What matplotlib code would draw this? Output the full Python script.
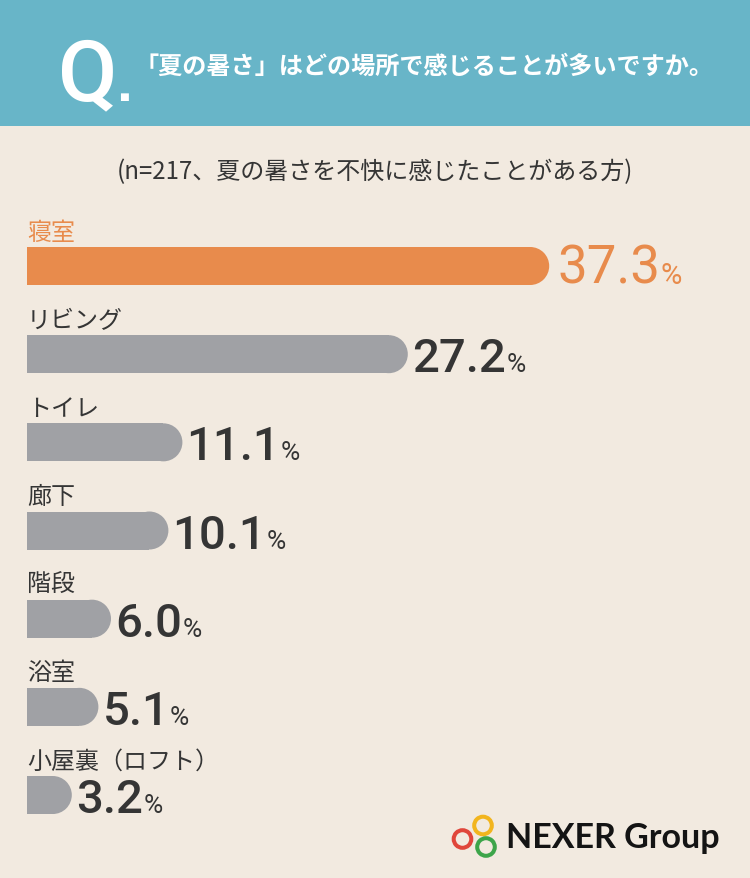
import matplotlib
matplotlib.use("Agg")
import matplotlib.pyplot as plt
from matplotlib.patches import Rectangle, Ellipse, Circle

# ---- data ----
categories = ["寝室", "リビング", "トイレ", "廊下", "階段", "浴室", "小屋裏（ロフト）"]
values = [37.3, 27.2, 11.1, 10.1, 6.0, 5.1, 3.2]
title = "「夏の暑さ」はどの場所で感じることが多いですか。"
subtitle = "(n=217、夏の暑さを不快に感じたことがある方)"
brand = "NEXER Group"

# ---- style ----
W, H = 750, 879
BG = "#F2EAE0"
TEAL = "#68B5C8"
ORANGE = "#E88B4C"
GRAY = "#A0A1A5"
DARK = "#353535"
JP = ["Noto Sans CJK JP", "DejaVu Sans"]
NUM = ["Roboto", "DejaVu Sans"]

PX_PER_PCT = 14.0
ROW_PX = 88.17
BAR_PX = 38

fig = plt.figure(figsize=(W / 100, H / 100), dpi=100, facecolor=BG)

# decoration layer in pixel coordinates
deco = fig.add_axes([0, 0, 1, 1])
deco.set_xlim(0, W)
deco.set_ylim(H, 0)
deco.axis("off")
deco.add_patch(Rectangle((0, 0), W, 127, color=TEAL, lw=0))
for (cx, cy), col in [((462.5, 840), "#E0463B"), ((483, 826.5), "#F2B51E"), ((486, 848), "#3DA54A")]:
    deco.add_patch(Circle((cx, cy), 8.8, fill=False, ec=col, lw=2.9))

# header texts
q = fig.text(58 / W, 1 - 100 / H, "Q", color="white", fontsize=62,
             family=NUM, fontweight="medium", va="baseline", ha="left")
deco.annotate("■", xy=(1, 1 - 100 / H), xycoords=(q, "figure fraction"),
              xytext=(1, 0), textcoords="offset points", color="white",
              fontsize=7.5, family=["DejaVu Sans"], va="baseline", ha="left")
fig.text(134 / W, 1 - 67 / H, title, color="white", fontsize=17.4, family=JP,
         fontweight="bold", va="center", ha="left")
fig.text(375 / W, 1 - 172 / H, subtitle, color=DARK, fontsize=17.3, family=JP,
         va="center", ha="center")
fig.text(506 / W, 1 - 848 / H, brand, color="#141414", fontsize=24.5,
         family=["Lato", "DejaVu Sans"], fontweight="bold", va="baseline", ha="left")

# bar chart axes
top_px = 267 - ROW_PX / 2
bot_px = 267 + ROW_PX * (len(values) - 0.5)
ax = fig.add_axes([27 / W, 1 - bot_px / H, (W - 27) / W, (bot_px - top_px) / H])
ax.set_xlim(0, (W - 27) / PX_PER_PCT)
ax.set_ylim(len(values) - 0.5, -0.5)
ax.axis("off")
ax.patch.set_alpha(0)

bar_h = BAR_PX / ROW_PX
rx = (BAR_PX / 2) / PX_PER_PCT
base_off = 17 / ROW_PX
for i, (cat, v) in enumerate(zip(categories, values)):
    col = ORANGE if i == 0 else GRAY
    tcol = ORANGE if i == 0 else DARK
    ax.barh(i, v - rx, height=bar_h, color=col, lw=0)
    ax.add_patch(Ellipse((v - rx, i), 2 * rx, bar_h, color=col, lw=0))
    ax.text(0, i - 0.39, cat, color=tcol, fontsize=17.3, family=JP,
            va="center", ha="left")
    nsize = 38 if i == 0 else 34
    psize = 21 if i == 0 else 19
    weight = "normal" if i == 0 else "medium"
    num = ax.annotate(f"{v:.1f}", xy=(v, i + base_off), xytext=(6 if i == 0 else 3, 0),
                      textcoords="offset points", va="baseline", ha="left",
                      fontsize=nsize, color=tcol, family=NUM, fontweight=weight)
    ax.annotate("%", xy=(1, i + base_off), xycoords=(num, "data"), xytext=(0.3, 0),
                textcoords="offset points", va="baseline", ha="left",
                fontsize=psize, color=tcol, family=NUM, fontweight="normal")

fig.savefig("out.png", dpi=100, facecolor=BG)
